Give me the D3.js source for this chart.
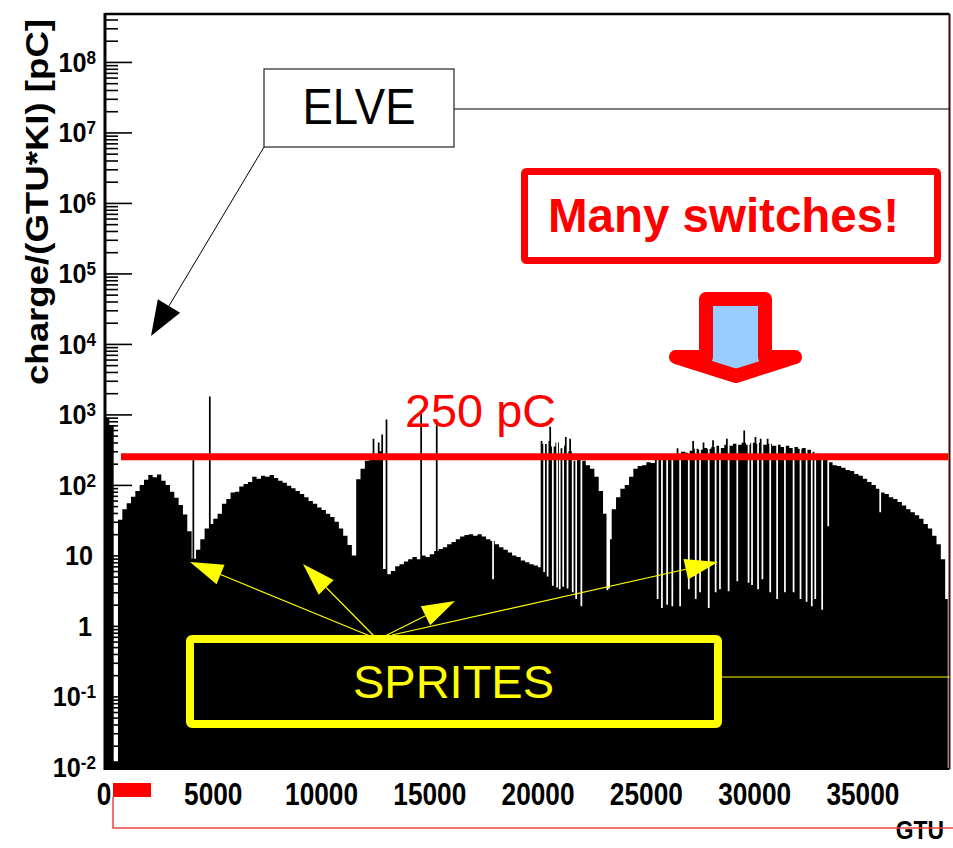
<!DOCTYPE html>
<html>
<head>
<meta charset="utf-8">
<script src="https://cdn.jsdelivr.net/npm/d3@7"></script>
<style>
  html, body { margin: 0; padding: 0; background: #fff; }
  svg { display: block; }
  text { font-family: "Liberation Sans", Arial, Helvetica, sans-serif; }
</style>
</head>
<body>
<svg id="chart" width="953" height="848"></svg>
<script>
// ---- data: charge per GTU, envelope in 200-GTU bins ----
const binWidth = 200;
const envelope = [
  900, 700, 0.012, 32, 45, 55, 68, 82, 100, 118,
  138, 128, 140, 115, 100, 80, 66, 52, 38, 22,
  9, 12, 17, 24, 28, 33, 39, 54, 63, 78,
  80, 95, 103, 110, 130, 122, 135, 130, 138, 125,
  115, 107, 97, 90, 82, 74, 67, 59, 54, 48,
  44, 39, 35, 30, 24, 19, 14, 10, 120, 170,
  220, 250, 265, 300, 6.4, 5.4, 6, 7, 7.5, 8.2,
  8.8, 9.5, 8.8, 10, 9.5, 10.4, 11.5, 12.3, 13, 14.4,
  15.5, 17, 18.5, 19.5, 20, 19, 20, 18.5, 17, 16,
  14.4, 13, 12, 11, 10, 9.5, 8.5, 8, 7.5, 7.2,
  6.8, 380, 420, 350, 400, 330, 360, 300, 220, 235,
  220, 190, 170, 130, 82, 39, 17, 45, 67, 88,
  100, 130, 170, 185, 190, 210, 205, 225, 235, 250,
  245, 265, 277, 295, 285, 305, 326, 315, 335, 326,
  345, 360, 335, 370, 360, 384, 370, 395, 370, 395,
  384, 395, 370, 384, 360, 370, 345, 360, 335, 345,
  326, 335, 315, 295, 277, 250, 225, 210, 190, 185,
  175, 163, 158, 143, 135, 122, 110, 100, 88, 78,
  74, 67, 63, 57, 51, 45, 41, 37, 33, 28,
  24, 19, 14.4, 8.8, 2.4
];

// narrow bursts above the envelope: [GTU, pC]
const spikes = [
  [4063, 240], [4825, 1800],
  [12374, 450], [12605, 400], [12790, 520], [12974, 850],
  [14590, 1100], [15305, 700],
  [20130, 420], [20546, 670], [20777, 340], [21262, 480], [21470, 450],
  [26409, 330], [27148, 420], [27610, 400], [28071, 430], [28717, 450],
  [29502, 590], [30011, 480], [30242, 450], [30565, 450], [31027, 410]
];

// gain switches: short drops below the envelope: [GTU, pC]
const gaps = [
  [17914, 4.6],
  [20246, 5.8], [20410, 5.0], [20661, 3.7], [20845, 3.5], [20985, 3.3],
  [21150, 3.6], [21354, 3.4], [21585, 3.0], [21746, 2.4], [21977, 1.9],
  [23177, 3.2], [23269, 3.4],
  [25486, 2.4], [25703, 1.8], [25948, 2.0], [26165, 1.9], [26548, 1.9],
  [26931, 3.3], [27240, 2.4], [27471, 3.0], [27854, 1.8], [28164, 3.0],
  [28395, 3.3], [28778, 3.1], [29166, 4.3], [29701, 4.1], [29872, 3.8],
  [30149, 3.3], [30320, 4.6], [30703, 3.0], [31012, 2.4], [31396, 3.0],
  [31779, 3.0], [32088, 2.4], [32397, 2.2], [32628, 1.9], [32781, 2.4],
  [33104, 1.7], [33380, 26], [35782, 41],
  [38920, 0.001]
];

const xTicks = [0, 5000, 10000, 15000, 20000, 25000, 30000, 35000];
const yDecades = [-2, -1, 0, 1, 2, 3, 4, 5, 6, 7, 8];
const threshold = 250;          // pC
const xMax = 39000;

// ---- scales ----
const svg = d3.select("#chart");
const frame = { left: 105, right: 949.5, top: 14, bottom: 769 };
const x = d3.scaleLinear().domain([0, xMax]).range([frame.left, frame.right]);
const y = d3.scaleLog()
  .domain([Math.pow(10, -2.03), Math.pow(10, 8.68)])
  .range([frame.bottom, frame.top])
  .clamp(true);

// ---- fine-binned histogram table ----
const fineWidth = 40;
const nFine = Math.round(xMax / fineWidth);
const fine = d3.range(nFine).map(j => ({
  g: j * fineWidth,
  v: envelope[Math.min(envelope.length - 1, Math.floor(j * fineWidth / binWidth))]
}));
spikes.forEach(([g, v]) => {
  const j = Math.floor(g / fineWidth);
  [j, j + 1].forEach(k => { if (fine[k]) fine[k].v = Math.max(fine[k].v, v); });
});
gaps.forEach(([g, v]) => {
  const j = Math.floor(g / fineWidth);
  [j, j + 1].forEach(k => { if (fine[k]) fine[k].v = v; });
});
fine.push({ g: xMax, v: fine[fine.length - 1].v });

svg.append("rect").attr("width", 953).attr("height", 848).attr("fill", "#fff");

const area = d3.area()
  .curve(d3.curveStepAfter)
  .x(d => x(d.g))
  .y0(frame.bottom)
  .y1(d => y(d.v));

svg.append("path").datum(fine).attr("d", area).attr("fill", "#000");

// ---- axes ----
const minorVals = [];
for (let k = -3; k <= 8; k++) {
  for (let m = 2; m <= 9; m++) {
    const v = m * Math.pow(10, k);
    if (v >= y.domain()[0] && v <= y.domain()[1]) minorVals.push(v);
  }
}
const majorVals = yDecades.map(k => Math.pow(10, k));

function styleAxis(g) {
  g.select(".domain").remove();
  g.selectAll("line").attr("stroke", "#000").attr("stroke-width", 1.6);
}
svg.append("g").attr("transform", `translate(${frame.left},0)`)
  .call(d3.axisLeft(y).tickValues(minorVals).tickSize(-13).tickFormat(""))
  .call(styleAxis);
svg.append("g").attr("transform", `translate(${frame.left},0)`)
  .call(d3.axisLeft(y).tickValues(majorVals).tickSize(-27).tickFormat(""))
  .call(styleAxis);
svg.append("g").attr("transform", `translate(0,${frame.bottom})`)
  .call(d3.axisBottom(x).tickValues(xTicks).tickSize(-20).tickFormat(""))
  .call(styleAxis);

// frame
svg.append("line").attr("x1", frame.left).attr("x2", frame.right)
  .attr("y1", frame.top).attr("y2", frame.top)
  .attr("stroke", "#000").attr("stroke-width", 2.5);
svg.append("line").attr("x1", frame.left).attr("x2", frame.left)
  .attr("y1", frame.top - 1).attr("y2", frame.bottom + 1)
  .attr("stroke", "#000").attr("stroke-width", 3);
svg.append("line").attr("x1", frame.left).attr("x2", frame.right)
  .attr("y1", frame.bottom).attr("y2", frame.bottom)
  .attr("stroke", "#000").attr("stroke-width", 2);
svg.append("line").attr("x1", frame.right).attr("x2", frame.right)
  .attr("y1", frame.top).attr("y2", frame.bottom)
  .attr("stroke", "#3d0a0a").attr("stroke-width", 2);

// y tick labels (10^k)
yDecades.forEach(k => {
  const ty = y(Math.pow(10, k));
  const right = (k === 0) ? 92 : (k === 1 ? 93 : 96);
  const g = svg.append("g").attr("transform", `translate(${right},${ty + 10}) scale(0.9,1)`);
  const t = g.append("text").attr("text-anchor", "end")
    .attr("font-size", 28).attr("font-weight", "bold").attr("fill", "#000");
  if (k === 0) t.text("1");
  else if (k === 1) t.text("10");
  else {
    t.append("tspan").text("10");
    t.append("tspan").attr("font-size", 19).attr("dy", -8).text(String(k));
  }
});

// x tick labels
xTicks.forEach(v => {
  svg.append("g").attr("transform", `translate(${x(v) - (v === 0 ? 1 : 0)},805) scale(0.82,1)`)
    .append("text").attr("text-anchor", "middle")
    .attr("font-size", 32).attr("font-weight", "bold").attr("fill", "#000")
    .text(v);
});

// axis titles
svg.append("text")
  .attr("transform", "translate(48,202) rotate(-90)")
  .attr("text-anchor", "middle")
  .attr("font-size", 31).attr("font-weight", "bold")
  .attr("textLength", 366).attr("lengthAdjust", "spacingAndGlyphs")
  .text("charge/(GTU*KI)  [pC]");

svg.append("g").attr("transform", "translate(944,839) scale(0.88,1)")
  .append("text").attr("text-anchor", "end")
  .attr("font-size", 26).attr("font-weight", "bold")
  .text("GTU");

// red marker under the axis
svg.append("rect").attr("x", 113).attr("y", 783).attr("width", 38).attr("height", 14).attr("fill", "#ff0000");
svg.append("path").attr("d", "M113,797 V828 H953").attr("fill", "none")
  .attr("stroke", "#ee4444").attr("stroke-width", 1.5);

// ---- annotations ----
function arrow(g, x1, y1, x2, y2, color, width, headLen, headHalf) {
  const dx = x2 - x1, dy = y2 - y1, L = Math.hypot(dx, dy);
  const ux = dx / L, uy = dy / L;
  const bx = x2 - ux * headLen, by = y2 - uy * headLen;
  g.append("line").attr("x1", x1).attr("y1", y1).attr("x2", bx).attr("y2", by)
    .attr("stroke", color).attr("stroke-width", width);
  g.append("polygon")
    .attr("points", [[x2, y2], [bx + uy * headHalf, by - ux * headHalf], [bx - uy * headHalf, by + ux * headHalf]]
      .map(p => p.join(",")).join(" "))
    .attr("fill", color);
}

// threshold line
const yThr = y(threshold);
svg.append("line").attr("x1", 121).attr("x2", frame.right - 1)
  .attr("y1", yThr).attr("y2", yThr)
  .attr("stroke", "#ff0000").attr("stroke-width", 7);
svg.append("text").attr("x", 405).attr("y", 427)
  .attr("font-size", 46).attr("fill", "#ff0000")
  .attr("textLength", 151).attr("lengthAdjust", "spacingAndGlyphs")
  .text(threshold + " pC");

// ELVE
const ann = svg.append("g");
ann.append("line").attr("x1", 454).attr("x2", frame.right).attr("y1", 109).attr("y2", 109)
  .attr("stroke", "#000").attr("stroke-width", 1);
ann.append("rect").attr("x", 264).attr("y", 69).attr("width", 190).attr("height", 78)
  .attr("fill", "#fff").attr("stroke", "#222").attr("stroke-width", 1.2);
ann.append("text").attr("x", 359).attr("y", 124).attr("text-anchor", "middle")
  .attr("font-size", 50).attr("fill", "#000")
  .attr("textLength", 113).attr("lengthAdjust", "spacingAndGlyphs")
  .text("ELVE");
arrow(ann, 264, 147, 151, 336, "#000", 1, 35, 13);

// Many switches!
ann.append("rect").attr("x", 524.5).attr("y", 171.5).attr("width", 413).attr("height", 89)
  .attr("rx", 2).attr("fill", "#fff").attr("stroke", "#ff0000").attr("stroke-width", 7);
ann.append("text").attr("x", 723.5).attr("y", 232).attr("text-anchor", "middle")
  .attr("font-size", 48).attr("font-weight", "bold").attr("fill", "#ff0000")
  .attr("textLength", 351).attr("lengthAdjust", "spacingAndGlyphs")
  .text("Many switches!");

// down arrow
ann.append("polygon")
  .attr("points", "706,299 765,299 765,357 795,357 736,376 676,357 706,357")
  .attr("fill", "#99ccff").attr("stroke", "#ff0000").attr("stroke-width", 14)
  .attr("stroke-linejoin", "round");

// SPRITES
ann.append("line").attr("x1", 722).attr("x2", frame.right).attr("y1", 677).attr("y2", 677)
  .attr("stroke", "#ffff00").attr("stroke-width", 1.2);
ann.append("rect").attr("x", 190).attr("y", 639).attr("width", 528).attr("height", 85)
  .attr("rx", 2).attr("fill", "none").attr("stroke", "#ffff00").attr("stroke-width", 8);
ann.append("text").attr("x", 453.5).attr("y", 698).attr("text-anchor", "middle")
  .attr("font-size", 47).attr("fill", "#ffff00")
  .attr("textLength", 201).attr("lengthAdjust", "spacingAndGlyphs")
  .text("SPRITES");
arrow(ann, 370, 636, 190, 562, "#ffff00", 1.2, 33, 10.5);
arrow(ann, 374, 636, 303, 564, "#ffff00", 1.2, 33, 10.5);
arrow(ann, 385, 636, 455, 601, "#ffff00", 1.2, 33, 10.5);
arrow(ann, 392, 635, 718, 562, "#ffff00", 1.2, 33, 10.5);
</script>
</body>
</html>
